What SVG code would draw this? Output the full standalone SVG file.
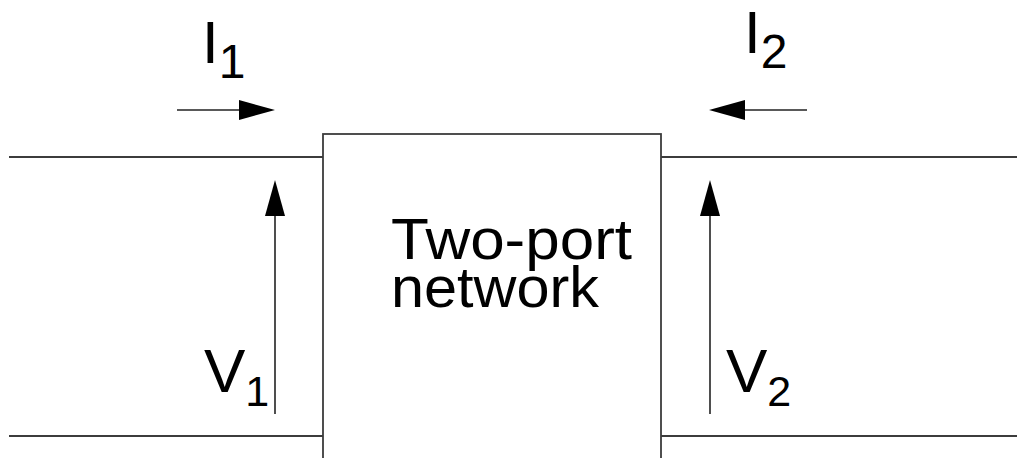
<svg xmlns="http://www.w3.org/2000/svg" width="1017" height="458" viewBox="0 0 1017 458">
  <style>
    .wire { stroke: #3c3c3c; stroke-width: 2; fill: none; }
    .box { stroke: #3c3c3c; stroke-width: 1.8; fill: #ffffff; }
    .arrow { stroke: #222; stroke-width: 1.6; fill: none; }
    .head { fill: #000; }
    .lbl { font-family: "Liberation Sans", Arial, sans-serif; fill: #000; }
  </style>
  <rect width="1017" height="458" fill="#ffffff"/>

  <!-- port wires -->
  <g id="connectors">
    <line class="wire" x1="9" y1="157" x2="323" y2="157"/>
    <line class="wire" x1="9" y1="436" x2="323" y2="436"/>
    <line class="wire" x1="661" y1="157" x2="1017" y2="157"/>
    <line class="wire" x1="661" y1="436" x2="1017" y2="436"/>

    <!-- current I1 -->
    <line class="arrow" x1="177" y1="110" x2="242" y2="110"/>
    <polygon class="head" points="275,110 239,100 239,120"/>
    <!-- current I2 -->
    <line class="arrow" x1="807" y1="110" x2="742" y2="110"/>
    <polygon class="head" points="709,110 745,100 745,120"/>
    <!-- voltage V1 -->
    <line class="arrow" x1="275" y1="414" x2="275" y2="212"/>
    <polygon class="head" points="275,180 265,216 285,216"/>
    <!-- voltage V2 -->
    <line class="arrow" x1="710" y1="414" x2="710" y2="212"/>
    <polygon class="head" points="710,180 700,216 720,216"/>
  </g>

  <g id="network">
    <rect class="box" x="323" y="134" width="338" height="340"/>
    <text class="lbl" x="391" y="259" font-size="58" textLength="241" lengthAdjust="spacingAndGlyphs">Two-port</text>
    <text class="lbl" x="391" y="307" font-size="58" textLength="208" lengthAdjust="spacingAndGlyphs">network</text>
  </g>

  <g id="label-I1">
    <text class="lbl" x="202" y="63" font-size="60">I<tspan font-size="48" dy="15">1</tspan></text>
  </g>
  <g id="label-I2">
    <text class="lbl" x="744" y="53" font-size="60">I<tspan font-size="48" dy="15">2</tspan></text>
  </g>
  <g id="label-V1">
    <text class="lbl" x="204" y="392" font-size="62">V<tspan font-size="43" dy="14">1</tspan></text>
  </g>
  <g id="label-V2">
    <text class="lbl" x="726" y="392" font-size="62">V<tspan font-size="43" dy="14">2</tspan></text>
  </g>
</svg>
